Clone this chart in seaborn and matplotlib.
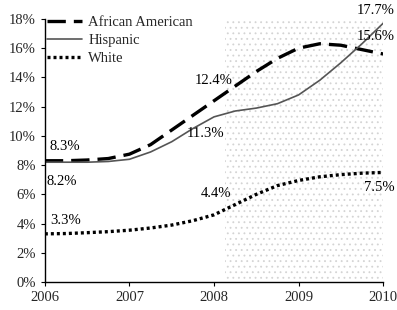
import matplotlib
matplotlib.use("Agg")
import matplotlib.pyplot as plt
import seaborn as sns
import pandas as pd

# quarterly readings, 2006.0 .. 2010.0
years = [2006 + q * 0.25 for q in range(17)]
african_american = [8.3, 8.3, 8.35, 8.45, 8.75, 9.4, 10.4, 11.4, 12.4,
                    13.4, 14.4, 15.3, 16.0, 16.3, 16.2, 15.9, 15.6]
hispanic = [8.2, 8.2, 8.2, 8.25, 8.4, 8.9, 9.6, 10.5, 11.3,
            11.7, 11.9, 12.2, 12.8, 13.8, 15.0, 16.3, 17.7]
white = [3.3, 3.32, 3.38, 3.45, 3.55, 3.7, 3.9, 4.2, 4.6,
         5.3, 6.0, 6.6, 6.95, 7.2, 7.35, 7.45, 7.5]

# labelled values: (text, x, y, ha)
labels = [
    ("8.3%", 2006.05, 9.3, "left"),
    ("8.2%", 2006.02, 6.9, "left"),
    ("3.3%", 2006.06, 4.2, "left"),
    ("12.4%", 2008.22, 13.8, "right"),
    ("11.3%", 2008.12, 10.15, "right"),
    ("4.4%", 2008.2, 6.05, "right"),
    ("17.7%", 2010.14, 18.55, "right"),
    ("15.6%", 2010.14, 16.8, "right"),
    ("7.5%", 2010.14, 6.5, "right"),
]
recession_start = 2008.13

df = pd.DataFrame({"year": years, "African American": african_american,
                   "Hispanic": hispanic, "White": white})

sns.set_theme(style="ticks")
plt.rcParams["font.family"] = ["Liberation Serif", "DejaVu Serif"]
plt.rcParams["hatch.linewidth"] = 0.6

fig = plt.figure(figsize=(3.97, 3.10), dpi=100)
ax = fig.add_axes([0.113, 0.09, 0.852, 0.849])

ax.axvspan(recession_start, 2010, ymin=0, ymax=1, facecolor="white",
           edgecolor="#d4d4d4", hatch="...", linewidth=0, zorder=0)

sns.lineplot(data=df, x="year", y="African American", ax=ax, color="black",
             linewidth=2.4, linestyle=(0, (5.5, 2.4)), label="African American")
sns.lineplot(data=df, x="year", y="Hispanic", ax=ax, color="#555555",
             linewidth=1.2, label="Hispanic")
sns.lineplot(data=df, x="year", y="White", ax=ax, color="black",
             linewidth=2.4, linestyle=(0, (0.9, 0.9)), label="White")

for text, x, y, ha in labels:
    ax.text(x, y, text, ha=ha, va="center", fontsize=10.5, color="black",
            clip_on=False)

ax.set_xlim(2006, 2010)
ax.set_ylim(0, 18)
ax.set_xticks([2006, 2007, 2008, 2009, 2010])
ax.set_xticklabels(["2006", "2007", "2008", "2009", "2010"])
ax.set_yticks(range(0, 19, 2))
ax.set_yticklabels([f"{v}%" for v in range(0, 19, 2)])
ax.set_xlabel("")
ax.set_ylabel("")
ax.tick_params(labelsize=10.5, length=3, width=0.8, color="black")
for side in ["left", "bottom"]:
    ax.spines[side].set_color("black")
    ax.spines[side].set_linewidth(1.0)
sns.despine(ax=ax)

ax.legend(loc="upper left", bbox_to_anchor=(-0.01, 1.035), frameon=False,
          fontsize=10.5, handlelength=2.4, handletextpad=0.4,
          labelspacing=0.35, borderaxespad=0)

fig.savefig("out.png", dpi=100)
